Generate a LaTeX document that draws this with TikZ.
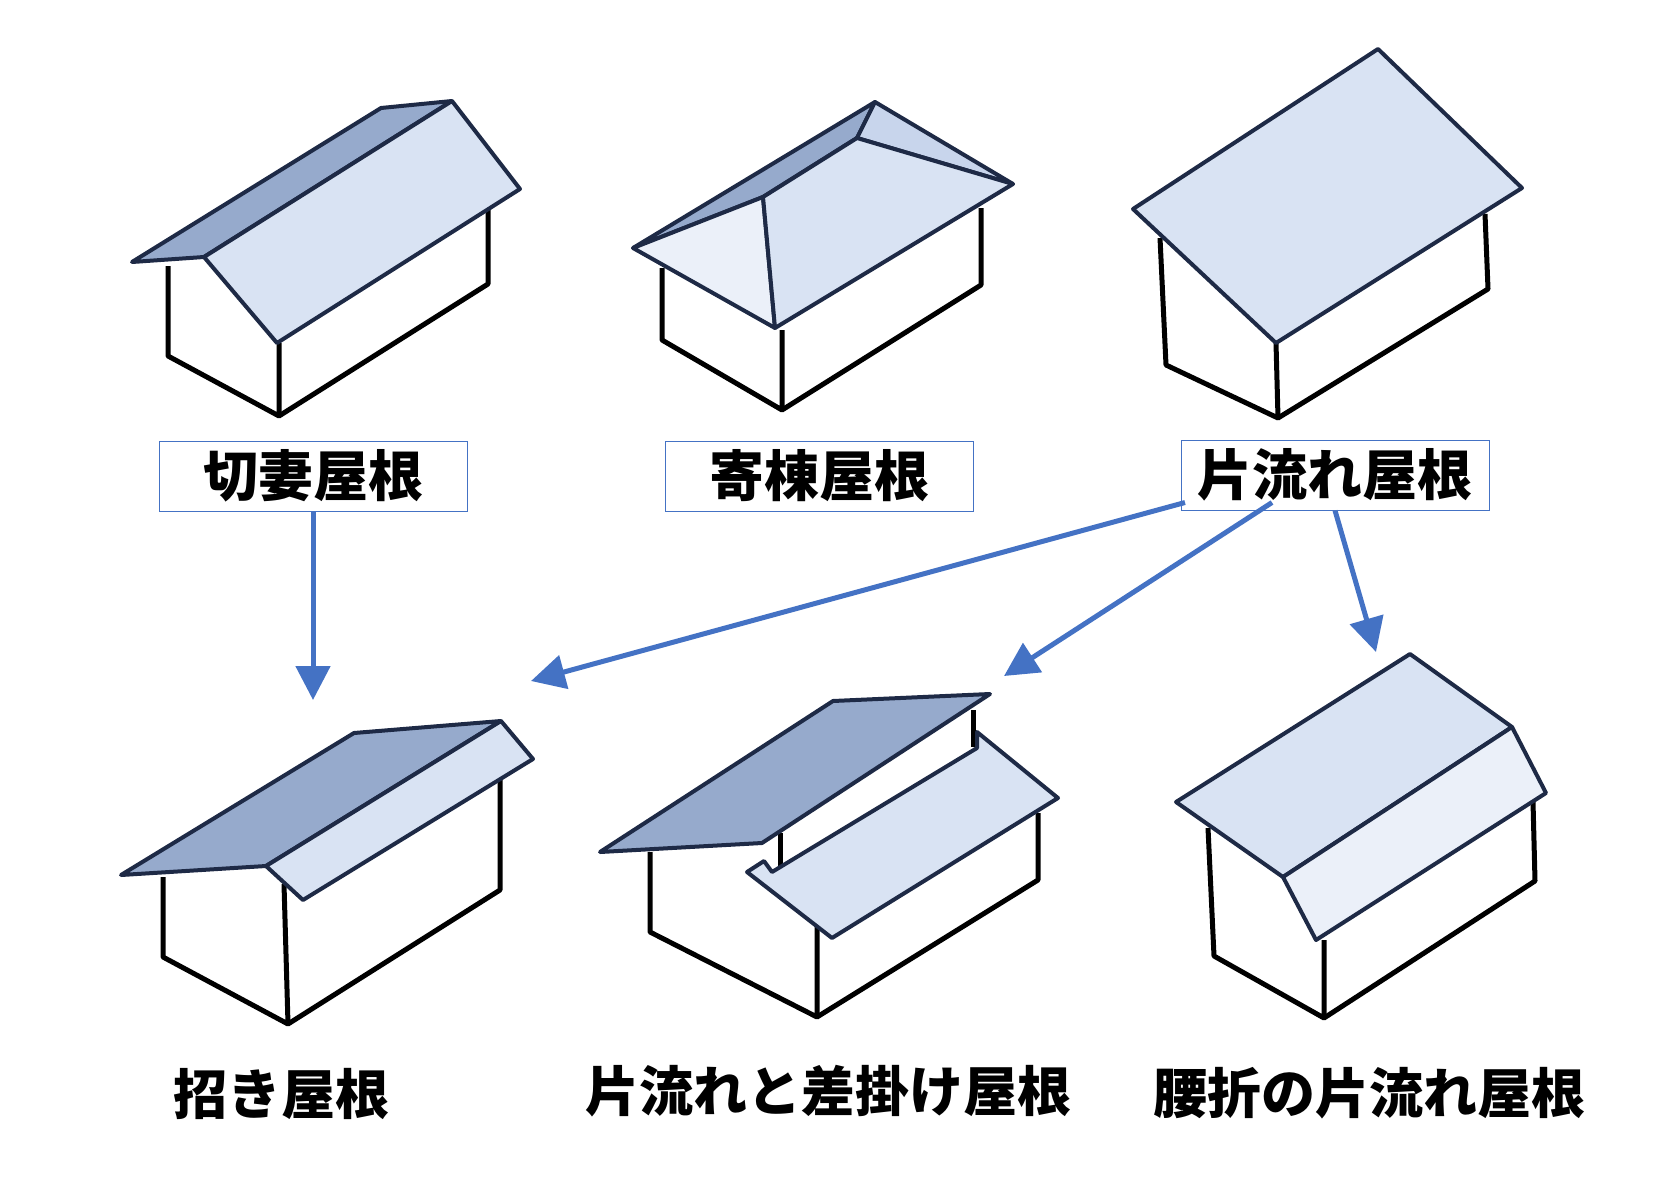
\documentclass[tikz,border=0pt]{standalone}
\usepackage{fontspec}
\newfontfamily\jpfont{Noto Sans CJK JP}
\usetikzlibrary{arrows.meta}
\usetikzlibrary{positioning}

\begin{document}
\begin{tikzpicture}[x=1pt,y=-1pt,
    wall/.style={draw=black,line width=5pt,line join=round},
    roof/.style={draw=navy,line width=4pt,line join=round},
    box/.style={draw=lineblue,line width=1pt,minimum width=308pt,minimum height=70pt,font=\jpfont\bfseries\fontsize{55}{60}\selectfont},
    caption/.style={font=\jpfont\bfseries\fontsize{54}{60}\selectfont},
    link/.style={draw=arrowblue,line width=5pt,-{Triangle[length=34pt,width=34pt]}}]

\definecolor{navy}{RGB}{30,42,70}
\definecolor{rdark}{RGB}{150,170,204}
\definecolor{rmid}{RGB}{200,213,236}
\definecolor{rlight}{RGB}{217,227,243}
\definecolor{rpale}{RGB}{235,240,249}
\definecolor{lineblue}{RGB}{68,114,196}
\definecolor{arrowblue}{RGB}{68,114,196}

\useasboundingbox (0,0) rectangle (1672,1180);

% gable
\draw[wall] (168,266) -- (168,356) -- (279,416) -- (279,343);
\draw[wall] (279,416) -- (488,284) -- (488,210);
\filldraw[roof,fill=rdark] (132,262) -- (381,108) -- (452,101) -- (204,257) -- cycle;
\filldraw[roof,fill=rlight] (204,257) -- (452,101) -- (520,189) -- (277,343) -- cycle;

% hip
\draw[wall] (662,268) -- (662,340) -- (782,410) -- (782,330);
\draw[wall] (782,410) -- (981,285) -- (981,208);
\filldraw[roof,fill=rdark] (633,248) -- (875,102) -- (857,138) -- (763,197) -- cycle;
\filldraw[roof,fill=rpale] (633,248) -- (763,197) -- (775,328) -- cycle;
\filldraw[roof,fill=rmid] (857,138) -- (875,102) -- (1013,184) -- cycle;
\filldraw[roof,fill=rlight] (763,197) -- (857,138) -- (1013,184) -- (775,328) -- cycle;

% shed
\draw[wall] (1160,238) -- (1166,365) -- (1278,418) -- (1276,343);
\draw[wall] (1278,418) -- (1488,289) -- (1485,214);
\filldraw[roof,fill=rlight] (1133,209) -- (1378,49) -- (1522,188) -- (1276,343) -- cycle;

% labels (top)
\node[box] (kiri) at (313,476) {切妻屋根};
\node[box] (yose) at (819,476) {寄棟屋根};
\node[box] (kata) at (1335,475) {片流れ屋根};

% invited gable
\draw[wall] (163,877) -- (163,957) -- (288,1024) -- (284,884);
\draw[wall] (288,1024) -- (500,890) -- (500,780);
\filldraw[roof,fill=rdark] (121,875) -- (354,733) -- (501,721) -- (266,866) -- cycle;
\filldraw[roof,fill=rlight] (266,866) -- (501,721) -- (533,759) -- (303,900) -- cycle;

% shed with lean-to
\draw[wall] (650,852) -- (650,932) -- (817,1017) -- (817,923);
\draw[wall] (817,1017) -- (1038,880) -- (1038,813);
\draw[wall] (973,710) -- (973,747);
\draw[wall] (780,833) -- (780,872);
\filldraw[roof,fill=rdark] (600,852) -- (833,701) -- (990,694) -- (762,843) -- cycle;
\filldraw[roof,fill=rlight] (977,748) -- (977,732) -- (1058,798) -- (832,938) -- (747,872) -- (764,861) -- (772,872) -- cycle;

% bent shed
\draw[wall] (1208,828) -- (1214,956) -- (1324,1018) -- (1324,940);
\draw[wall] (1324,1018) -- (1535,881) -- (1533,802);
\filldraw[roof,fill=rlight] (1176,802) -- (1410,654) -- (1512,727) -- (1283,877) -- cycle;
\filldraw[roof,fill=rpale] (1283,877) -- (1512,727) -- (1546,793) -- (1316,940) -- cycle;

% labels (bottom)
\node[caption] (maneki) at (281,1094) {招き屋根};
\node[caption] (sashi) at (828,1091) {片流れと差掛け屋根};
\node[caption] (koshi) at (1369,1093) {腰折の片流れ屋根};

% arrows
\coordinate (tmaneki) at (313,700);
\coordinate (tsashi1) at (531,681);
\coordinate (tsashi2) at (1004,676);
\coordinate (tkoshi) at (1376,652);
\draw[link] ([xshift=0pt]kiri.south) -- (tmaneki);
\draw[link] ([xshift=-150pt,yshift=8pt]kata.south) -- (tsashi1);
\draw[link] ([xshift=-63pt,yshift=8pt]kata.south) -- (tsashi2);
\draw[link] ([xshift=0pt]kata.south) -- (tkoshi);

\end{tikzpicture}
\end{document}
